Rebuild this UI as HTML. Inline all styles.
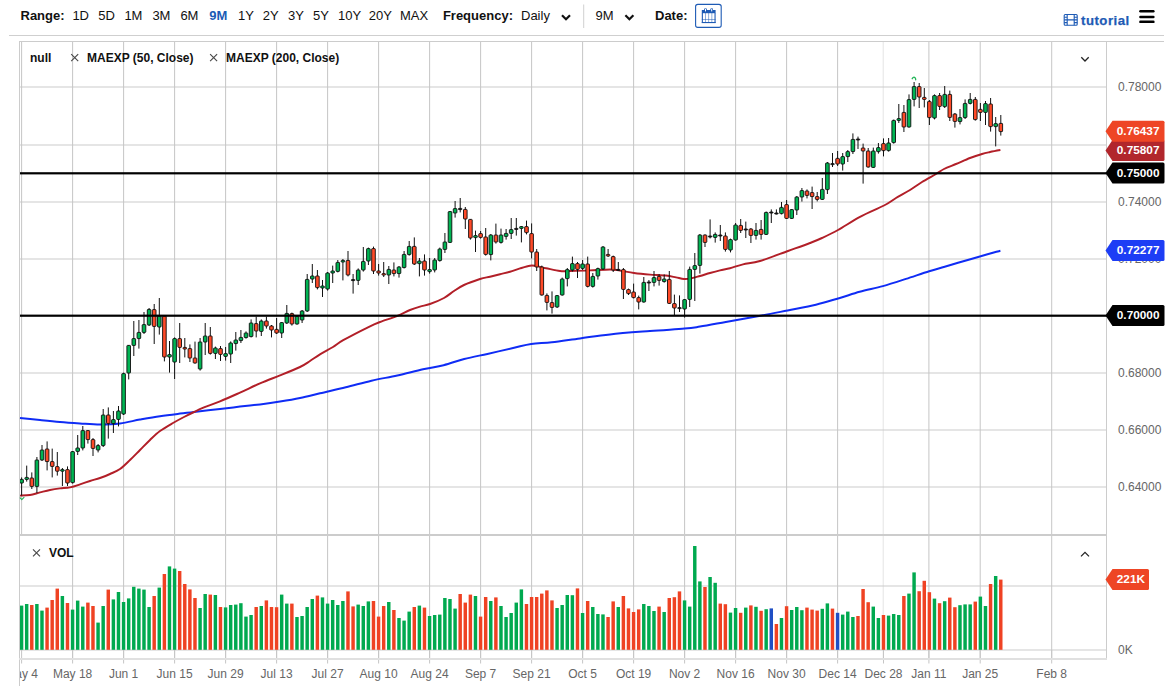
<!DOCTYPE html>
<html><head><meta charset="utf-8"><title>Chart</title>
<style>
html,body{margin:0;padding:0;background:#fff;}
body{width:1165px;height:690px;overflow:hidden;font-family:"Liberation Sans", sans-serif;}
svg{display:block;position:absolute;left:0;top:0;}
text{font-family:"Liberation Sans", sans-serif;}
.ax{font-size:12px;fill:#666;}
.tb{font-size:13px;fill:#111;}
.b{font-weight:bold;}
.lg{font-size:12px;font-weight:bold;fill:#111;}
.fl{font-size:11.8px;font-weight:bold;fill:#fff;}
</style></head><body>
<svg width="1165" height="690" viewBox="0 0 1165 690">
<rect width="1165" height="690" fill="#fff"/>

<rect x="9" y="35" width="1155" height="1" fill="#cfcfcf"/>
<g shape-rendering="crispEdges">
<rect x="20" y="86" width="1086" height="2" fill="#e5e5e5"/>
<rect x="20" y="144" width="1086" height="2" fill="#e5e5e5"/>
<rect x="20" y="201" width="1086" height="2" fill="#e5e5e5"/>
<rect x="20" y="258" width="1086" height="2" fill="#e5e5e5"/>
<rect x="20" y="372" width="1086" height="2" fill="#e5e5e5"/>
<rect x="20" y="429" width="1086" height="2" fill="#e5e5e5"/>
<rect x="20" y="486" width="1086" height="2" fill="#e5e5e5"/>
<rect x="20" y="585" width="1086" height="2" fill="#e5e5e5"/>
<rect x="20" y="649" width="1086" height="2" fill="#e5e5e5"/>
<rect x="21.1" y="42" width="1" height="492" fill="#c6c6c6" shape-rendering="auto"/>
<rect x="21.1" y="650" width="1" height="13.5" fill="#c6c6c6" shape-rendering="auto"/>
<rect x="72.1" y="42" width="1" height="618" fill="#c6c6c6" shape-rendering="auto"/>
<rect x="72.1" y="650" width="1" height="13.5" fill="#c6c6c6" shape-rendering="auto"/>
<rect x="123.1" y="42" width="1" height="618" fill="#c6c6c6" shape-rendering="auto"/>
<rect x="123.1" y="650" width="1" height="13.5" fill="#c6c6c6" shape-rendering="auto"/>
<rect x="174.1" y="42" width="1" height="618" fill="#c6c6c6" shape-rendering="auto"/>
<rect x="174.1" y="650" width="1" height="13.5" fill="#c6c6c6" shape-rendering="auto"/>
<rect x="225.1" y="42" width="1" height="618" fill="#c6c6c6" shape-rendering="auto"/>
<rect x="225.1" y="650" width="1" height="13.5" fill="#c6c6c6" shape-rendering="auto"/>
<rect x="276.1" y="42" width="1" height="618" fill="#c6c6c6" shape-rendering="auto"/>
<rect x="276.1" y="650" width="1" height="13.5" fill="#c6c6c6" shape-rendering="auto"/>
<rect x="327.1" y="42" width="1" height="618" fill="#c6c6c6" shape-rendering="auto"/>
<rect x="327.1" y="650" width="1" height="13.5" fill="#c6c6c6" shape-rendering="auto"/>
<rect x="378.1" y="42" width="1" height="618" fill="#c6c6c6" shape-rendering="auto"/>
<rect x="378.1" y="650" width="1" height="13.5" fill="#c6c6c6" shape-rendering="auto"/>
<rect x="429.1" y="42" width="1" height="618" fill="#c6c6c6" shape-rendering="auto"/>
<rect x="429.1" y="650" width="1" height="13.5" fill="#c6c6c6" shape-rendering="auto"/>
<rect x="480.1" y="42" width="1" height="618" fill="#c6c6c6" shape-rendering="auto"/>
<rect x="480.1" y="650" width="1" height="13.5" fill="#c6c6c6" shape-rendering="auto"/>
<rect x="531.1" y="42" width="1" height="618" fill="#c6c6c6" shape-rendering="auto"/>
<rect x="531.1" y="650" width="1" height="13.5" fill="#c6c6c6" shape-rendering="auto"/>
<rect x="582.1" y="42" width="1" height="618" fill="#c6c6c6" shape-rendering="auto"/>
<rect x="582.1" y="650" width="1" height="13.5" fill="#c6c6c6" shape-rendering="auto"/>
<rect x="633.1" y="42" width="1" height="618" fill="#c6c6c6" shape-rendering="auto"/>
<rect x="633.1" y="650" width="1" height="13.5" fill="#c6c6c6" shape-rendering="auto"/>
<rect x="684.1" y="42" width="1" height="618" fill="#c6c6c6" shape-rendering="auto"/>
<rect x="684.1" y="650" width="1" height="13.5" fill="#c6c6c6" shape-rendering="auto"/>
<rect x="735.1" y="42" width="1" height="618" fill="#c6c6c6" shape-rendering="auto"/>
<rect x="735.1" y="650" width="1" height="13.5" fill="#c6c6c6" shape-rendering="auto"/>
<rect x="786.1" y="42" width="1" height="618" fill="#c6c6c6" shape-rendering="auto"/>
<rect x="786.1" y="650" width="1" height="13.5" fill="#c6c6c6" shape-rendering="auto"/>
<rect x="837.1" y="42" width="1" height="618" fill="#c6c6c6" shape-rendering="auto"/>
<rect x="837.1" y="650" width="1" height="13.5" fill="#c6c6c6" shape-rendering="auto"/>
<path d="M883.2,42.5 V660" stroke="#c8c8c8" stroke-width="1" stroke-dasharray="1,1" fill="none" shape-rendering="auto"/>
<rect x="883.0" y="650" width="1" height="13.5" fill="#c6c6c6" shape-rendering="auto"/>
<rect x="928.4" y="42" width="1" height="618" fill="#c6c6c6" shape-rendering="auto"/>
<rect x="928.4" y="650" width="1" height="13.5" fill="#c6c6c6" shape-rendering="auto"/>
<rect x="979.7" y="42" width="1" height="618" fill="#c6c6c6" shape-rendering="auto"/>
<rect x="979.7" y="650" width="1" height="13.5" fill="#c6c6c6" shape-rendering="auto"/>
<rect x="1051.2" y="42" width="1" height="618" fill="#c6c6c6" shape-rendering="auto"/>
<rect x="1051.2" y="650" width="1" height="13.5" fill="#c6c6c6" shape-rendering="auto"/>
<rect x="19" y="41" width="1145" height="1" fill="#cccccc"/>
<rect x="19" y="41" width="1" height="645" fill="#cccccc"/>
<rect x="1106" y="41" width="1" height="619" fill="#cccccc"/>
<rect x="19" y="534" width="1088" height="2" fill="#cccccc"/>
<rect x="19" y="658" width="1088" height="2" fill="#e0e0e0"/>
</g>
<clipPath id="cv"><rect x="20" y="536" width="1086" height="124"/></clipPath><g clip-path="url(#cv)">
<rect x="19.85" y="605.6" width="3.45" height="44.2" fill="#00a94f"/>
<rect x="24.95" y="604.0" width="3.45" height="45.8" fill="#00a94f"/>
<rect x="30.05" y="605.0" width="3.45" height="44.8" fill="#ef4223"/>
<rect x="35.15" y="604.0" width="3.45" height="45.8" fill="#00a94f"/>
<rect x="40.25" y="610.6" width="3.45" height="39.2" fill="#00a94f"/>
<rect x="45.35" y="607.6" width="3.45" height="42.2" fill="#ef4223"/>
<rect x="50.45" y="600.0" width="3.45" height="49.8" fill="#ef4223"/>
<rect x="55.55" y="588.6" width="3.45" height="61.2" fill="#ef4223"/>
<rect x="60.65" y="596.0" width="3.45" height="53.8" fill="#00a94f"/>
<rect x="65.75" y="603.0" width="3.45" height="46.8" fill="#ef4223"/>
<rect x="70.85" y="609.6" width="3.45" height="40.2" fill="#00a94f"/>
<rect x="75.95" y="600.6" width="3.45" height="49.2" fill="#00a94f"/>
<rect x="81.05" y="606.6" width="3.45" height="43.2" fill="#00a94f"/>
<rect x="86.15" y="602.6" width="3.45" height="47.2" fill="#ef4223"/>
<rect x="91.25" y="606.0" width="3.45" height="43.8" fill="#ef4223"/>
<rect x="96.35" y="622.6" width="3.45" height="27.2" fill="#00a94f"/>
<rect x="101.45" y="606.0" width="3.45" height="43.8" fill="#00a94f"/>
<rect x="106.55" y="589.6" width="3.45" height="60.2" fill="#ef4223"/>
<rect x="111.65" y="599.4" width="3.45" height="50.4" fill="#00a94f"/>
<rect x="116.75" y="592.0" width="3.45" height="57.8" fill="#00a94f"/>
<rect x="121.85" y="602.0" width="3.45" height="47.8" fill="#00a94f"/>
<rect x="126.95" y="598.4" width="3.45" height="51.4" fill="#00a94f"/>
<rect x="132.05" y="586.8" width="3.45" height="63.0" fill="#00a94f"/>
<rect x="137.15" y="588.6" width="3.45" height="61.2" fill="#00a94f"/>
<rect x="142.25" y="589.6" width="3.45" height="60.2" fill="#00a94f"/>
<rect x="147.35" y="607.0" width="3.45" height="42.8" fill="#00a94f"/>
<rect x="152.45" y="596.0" width="3.45" height="53.8" fill="#ef4223"/>
<rect x="157.55" y="587.6" width="3.45" height="62.2" fill="#00a94f"/>
<rect x="162.65" y="574.0" width="3.45" height="75.8" fill="#ef4223"/>
<rect x="167.75" y="566.4" width="3.45" height="83.4" fill="#00a94f"/>
<rect x="172.85" y="568.6" width="3.45" height="81.2" fill="#00a94f"/>
<rect x="177.95" y="571.0" width="3.45" height="78.8" fill="#ef4223"/>
<rect x="183.05" y="584.0" width="3.45" height="65.8" fill="#ef4223"/>
<rect x="188.15" y="589.4" width="3.45" height="60.4" fill="#ef4223"/>
<rect x="193.25" y="598.0" width="3.45" height="51.8" fill="#ef4223"/>
<rect x="198.35" y="608.0" width="3.45" height="41.8" fill="#00a94f"/>
<rect x="203.45" y="594.0" width="3.45" height="55.8" fill="#00a94f"/>
<rect x="208.55" y="594.6" width="3.45" height="55.2" fill="#ef4223"/>
<rect x="213.65" y="595.0" width="3.45" height="54.8" fill="#00a94f"/>
<rect x="218.75" y="607.0" width="3.45" height="42.8" fill="#ef4223"/>
<rect x="223.85" y="607.4" width="3.45" height="42.4" fill="#00a94f"/>
<rect x="228.95" y="605.0" width="3.45" height="44.8" fill="#00a94f"/>
<rect x="234.05" y="604.6" width="3.45" height="45.2" fill="#00a94f"/>
<rect x="239.15" y="603.2" width="3.45" height="46.6" fill="#00a94f"/>
<rect x="244.25" y="616.6" width="3.45" height="33.2" fill="#00a94f"/>
<rect x="249.35" y="615.0" width="3.45" height="34.8" fill="#00a94f"/>
<rect x="254.45" y="607.0" width="3.45" height="42.8" fill="#ef4223"/>
<rect x="259.55" y="606.0" width="3.45" height="43.8" fill="#00a94f"/>
<rect x="264.65" y="600.4" width="3.45" height="49.4" fill="#ef4223"/>
<rect x="269.75" y="607.0" width="3.45" height="42.8" fill="#ef4223"/>
<rect x="274.85" y="607.2" width="3.45" height="42.6" fill="#ef4223"/>
<rect x="279.95" y="594.6" width="3.45" height="55.2" fill="#00a94f"/>
<rect x="285.05" y="603.6" width="3.45" height="46.2" fill="#00a94f"/>
<rect x="290.15" y="603.6" width="3.45" height="46.2" fill="#ef4223"/>
<rect x="295.25" y="617.0" width="3.45" height="32.8" fill="#00a94f"/>
<rect x="300.35" y="616.0" width="3.45" height="33.8" fill="#00a94f"/>
<rect x="305.45" y="607.0" width="3.45" height="42.8" fill="#00a94f"/>
<rect x="310.55" y="599.0" width="3.45" height="50.8" fill="#00a94f"/>
<rect x="315.65" y="595.6" width="3.45" height="54.2" fill="#ef4223"/>
<rect x="320.75" y="597.4" width="3.45" height="52.4" fill="#00a94f"/>
<rect x="325.85" y="603.6" width="3.45" height="46.2" fill="#00a94f"/>
<rect x="330.95" y="600.0" width="3.45" height="49.8" fill="#00a94f"/>
<rect x="336.05" y="605.0" width="3.45" height="44.8" fill="#00a94f"/>
<rect x="341.15" y="601.0" width="3.45" height="48.8" fill="#00a94f"/>
<rect x="346.25" y="591.4" width="3.45" height="58.4" fill="#ef4223"/>
<rect x="351.35" y="606.4" width="3.45" height="43.4" fill="#ef4223"/>
<rect x="356.45" y="604.6" width="3.45" height="45.2" fill="#00a94f"/>
<rect x="361.55" y="606.0" width="3.45" height="43.8" fill="#00a94f"/>
<rect x="366.65" y="601.4" width="3.45" height="48.4" fill="#00a94f"/>
<rect x="371.75" y="601.0" width="3.45" height="48.8" fill="#ef4223"/>
<rect x="376.85" y="616.6" width="3.45" height="33.2" fill="#ef4223"/>
<rect x="381.95" y="606.0" width="3.45" height="43.8" fill="#ef4223"/>
<rect x="387.05" y="602.0" width="3.45" height="47.8" fill="#00a94f"/>
<rect x="392.15" y="610.0" width="3.45" height="39.8" fill="#ef4223"/>
<rect x="397.25" y="618.0" width="3.45" height="31.8" fill="#00a94f"/>
<rect x="402.35" y="620.6" width="3.45" height="29.2" fill="#00a94f"/>
<rect x="407.45" y="611.6" width="3.45" height="38.2" fill="#00a94f"/>
<rect x="412.55" y="607.0" width="3.45" height="42.8" fill="#ef4223"/>
<rect x="417.65" y="605.6" width="3.45" height="44.2" fill="#00a94f"/>
<rect x="422.75" y="607.6" width="3.45" height="42.2" fill="#ef4223"/>
<rect x="427.85" y="616.0" width="3.45" height="33.8" fill="#00a94f"/>
<rect x="432.95" y="615.0" width="3.45" height="34.8" fill="#00a94f"/>
<rect x="438.05" y="614.6" width="3.45" height="35.2" fill="#00a94f"/>
<rect x="443.15" y="598.0" width="3.45" height="51.8" fill="#00a94f"/>
<rect x="448.25" y="599.0" width="3.45" height="50.8" fill="#00a94f"/>
<rect x="453.35" y="608.6" width="3.45" height="41.2" fill="#00a94f"/>
<rect x="458.45" y="594.0" width="3.45" height="55.8" fill="#ef4223"/>
<rect x="463.55" y="602.6" width="3.45" height="47.2" fill="#ef4223"/>
<rect x="468.65" y="594.6" width="3.45" height="55.2" fill="#ef4223"/>
<rect x="473.75" y="596.0" width="3.45" height="53.8" fill="#00a94f"/>
<rect x="478.85" y="616.6" width="3.45" height="33.2" fill="#ef4223"/>
<rect x="483.95" y="597.0" width="3.45" height="52.8" fill="#ef4223"/>
<rect x="489.05" y="601.0" width="3.45" height="48.8" fill="#00a94f"/>
<rect x="494.15" y="597.4" width="3.45" height="52.4" fill="#ef4223"/>
<rect x="499.25" y="606.0" width="3.45" height="43.8" fill="#00a94f"/>
<rect x="504.35" y="617.0" width="3.45" height="32.8" fill="#00a94f"/>
<rect x="509.45" y="613.0" width="3.45" height="36.8" fill="#00a94f"/>
<rect x="514.55" y="602.6" width="3.45" height="47.2" fill="#00a94f"/>
<rect x="519.65" y="589.4" width="3.45" height="60.4" fill="#00a94f"/>
<rect x="524.75" y="604.0" width="3.45" height="45.8" fill="#ef4223"/>
<rect x="529.85" y="597.0" width="3.45" height="52.8" fill="#ef4223"/>
<rect x="534.95" y="597.0" width="3.45" height="52.8" fill="#ef4223"/>
<rect x="540.05" y="593.6" width="3.45" height="56.2" fill="#ef4223"/>
<rect x="545.15" y="590.4" width="3.45" height="59.4" fill="#ef4223"/>
<rect x="550.25" y="600.4" width="3.45" height="49.4" fill="#ef4223"/>
<rect x="555.35" y="608.0" width="3.45" height="41.8" fill="#00a94f"/>
<rect x="560.45" y="605.0" width="3.45" height="44.8" fill="#00a94f"/>
<rect x="565.55" y="595.0" width="3.45" height="54.8" fill="#00a94f"/>
<rect x="570.65" y="595.2" width="3.45" height="54.6" fill="#00a94f"/>
<rect x="575.75" y="588.4" width="3.45" height="61.4" fill="#ef4223"/>
<rect x="580.85" y="613.0" width="3.45" height="36.8" fill="#00a94f"/>
<rect x="585.95" y="601.0" width="3.45" height="48.8" fill="#ef4223"/>
<rect x="591.05" y="607.0" width="3.45" height="42.8" fill="#00a94f"/>
<rect x="596.15" y="614.0" width="3.45" height="35.8" fill="#00a94f"/>
<rect x="601.25" y="614.4" width="3.45" height="35.4" fill="#00a94f"/>
<rect x="606.35" y="617.0" width="3.45" height="32.8" fill="#ef4223"/>
<rect x="611.45" y="601.4" width="3.45" height="48.4" fill="#ef4223"/>
<rect x="616.55" y="607.0" width="3.45" height="42.8" fill="#00a94f"/>
<rect x="621.65" y="596.0" width="3.45" height="53.8" fill="#ef4223"/>
<rect x="626.75" y="608.4" width="3.45" height="41.4" fill="#ef4223"/>
<rect x="631.85" y="612.0" width="3.45" height="37.8" fill="#ef4223"/>
<rect x="636.95" y="609.4" width="3.45" height="40.4" fill="#ef4223"/>
<rect x="642.05" y="604.0" width="3.45" height="45.8" fill="#00a94f"/>
<rect x="647.15" y="606.0" width="3.45" height="43.8" fill="#00a94f"/>
<rect x="652.25" y="611.0" width="3.45" height="38.8" fill="#00a94f"/>
<rect x="657.35" y="606.6" width="3.45" height="43.2" fill="#ef4223"/>
<rect x="662.45" y="612.0" width="3.45" height="37.8" fill="#00a94f"/>
<rect x="667.55" y="598.0" width="3.45" height="51.8" fill="#ef4223"/>
<rect x="672.65" y="597.2" width="3.45" height="52.6" fill="#ef4223"/>
<rect x="677.75" y="591.4" width="3.45" height="58.4" fill="#ef4223"/>
<rect x="682.85" y="600.4" width="3.45" height="49.4" fill="#00a94f"/>
<rect x="687.95" y="606.6" width="3.45" height="43.2" fill="#00a94f"/>
<rect x="693.05" y="546.0" width="3.45" height="103.8" fill="#00a94f"/>
<rect x="698.15" y="581.4" width="3.45" height="68.4" fill="#00a94f"/>
<rect x="703.25" y="587.0" width="3.45" height="62.8" fill="#ef4223"/>
<rect x="708.35" y="577.0" width="3.45" height="72.8" fill="#00a94f"/>
<rect x="713.45" y="582.8" width="3.45" height="67.0" fill="#00a94f"/>
<rect x="718.55" y="603.6" width="3.45" height="46.2" fill="#ef4223"/>
<rect x="723.65" y="604.2" width="3.45" height="45.6" fill="#ef4223"/>
<rect x="728.75" y="612.6" width="3.45" height="37.2" fill="#00a94f"/>
<rect x="733.85" y="608.0" width="3.45" height="41.8" fill="#00a94f"/>
<rect x="738.95" y="612.8" width="3.45" height="37.0" fill="#ef4223"/>
<rect x="744.05" y="607.6" width="3.45" height="42.2" fill="#00a94f"/>
<rect x="749.15" y="605.4" width="3.45" height="44.4" fill="#ef4223"/>
<rect x="754.25" y="606.8" width="3.45" height="43.0" fill="#00a94f"/>
<rect x="759.35" y="610.8" width="3.45" height="39.0" fill="#ef4223"/>
<rect x="764.45" y="609.2" width="3.45" height="40.6" fill="#00a94f"/>
<rect x="769.55" y="608.4" width="3.45" height="41.4" fill="#1f4fc4"/>
<rect x="774.65" y="624.0" width="3.45" height="25.8" fill="#ef4223"/>
<rect x="779.75" y="618.0" width="3.45" height="31.8" fill="#00a94f"/>
<rect x="784.85" y="606.2" width="3.45" height="43.6" fill="#ef4223"/>
<rect x="789.95" y="610.0" width="3.45" height="39.8" fill="#00a94f"/>
<rect x="795.05" y="607.0" width="3.45" height="42.8" fill="#00a94f"/>
<rect x="800.15" y="610.2" width="3.45" height="39.6" fill="#00a94f"/>
<rect x="805.25" y="607.6" width="3.45" height="42.2" fill="#ef4223"/>
<rect x="810.35" y="609.6" width="3.45" height="40.2" fill="#ef4223"/>
<rect x="815.45" y="610.6" width="3.45" height="39.2" fill="#ef4223"/>
<rect x="820.55" y="608.8" width="3.45" height="41.0" fill="#00a94f"/>
<rect x="825.65" y="603.4" width="3.45" height="46.4" fill="#00a94f"/>
<rect x="830.75" y="608.6" width="3.45" height="41.2" fill="#ef4223"/>
<rect x="835.85" y="612.8" width="3.45" height="37.0" fill="#1f4fc4"/>
<rect x="840.95" y="614.6" width="3.45" height="35.2" fill="#00a94f"/>
<rect x="846.05" y="611.6" width="3.45" height="38.2" fill="#00a94f"/>
<rect x="851.15" y="617.0" width="3.45" height="32.8" fill="#00a94f"/>
<rect x="856.25" y="616.0" width="3.45" height="33.8" fill="#ef4223"/>
<rect x="861.35" y="589.0" width="3.45" height="60.8" fill="#ef4223"/>
<rect x="866.45" y="602.2" width="3.45" height="47.6" fill="#ef4223"/>
<rect x="871.55" y="606.6" width="3.45" height="43.2" fill="#00a94f"/>
<rect x="876.65" y="618.0" width="3.45" height="31.8" fill="#00a94f"/>
<rect x="881.75" y="615.0" width="3.45" height="34.8" fill="#ef4223"/>
<rect x="886.85" y="615.6" width="3.45" height="34.2" fill="#00a94f"/>
<rect x="891.95" y="614.0" width="3.45" height="35.8" fill="#00a94f"/>
<rect x="897.05" y="615.0" width="3.45" height="34.8" fill="#00a94f"/>
<rect x="902.15" y="596.0" width="3.45" height="53.8" fill="#ef4223"/>
<rect x="907.25" y="593.6" width="3.45" height="56.2" fill="#00a94f"/>
<rect x="912.35" y="572.4" width="3.45" height="77.4" fill="#00a94f"/>
<rect x="917.45" y="591.2" width="3.45" height="58.6" fill="#ef4223"/>
<rect x="922.55" y="580.8" width="3.45" height="69.0" fill="#ef4223"/>
<rect x="927.65" y="592.2" width="3.45" height="57.6" fill="#ef4223"/>
<rect x="932.75" y="598.6" width="3.45" height="51.2" fill="#00a94f"/>
<rect x="937.85" y="603.2" width="3.45" height="46.6" fill="#ef4223"/>
<rect x="942.95" y="601.2" width="3.45" height="48.6" fill="#00a94f"/>
<rect x="948.05" y="597.6" width="3.45" height="52.2" fill="#ef4223"/>
<rect x="953.15" y="607.2" width="3.45" height="42.6" fill="#ef4223"/>
<rect x="958.25" y="605.2" width="3.45" height="44.6" fill="#00a94f"/>
<rect x="963.35" y="604.4" width="3.45" height="45.4" fill="#00a94f"/>
<rect x="968.45" y="604.4" width="3.45" height="45.4" fill="#00a94f"/>
<rect x="973.55" y="601.6" width="3.45" height="48.2" fill="#ef4223"/>
<rect x="978.65" y="596.6" width="3.45" height="53.2" fill="#00a94f"/>
<rect x="983.75" y="606.0" width="3.45" height="43.8" fill="#00a94f"/>
<rect x="988.85" y="584.0" width="3.45" height="65.8" fill="#ef4223"/>
<rect x="993.95" y="576.0" width="3.45" height="73.8" fill="#00a94f"/>
<rect x="999.05" y="579.6" width="3.45" height="70.2" fill="#ef4223"/>
</g>
<path d="M20.0,418.0 C23.3,418.3 33.3,419.3 40.0,420.0 C46.7,420.7 53.3,421.4 60.0,422.0 C66.7,422.6 73.3,423.0 80.0,423.4 C86.7,423.8 93.3,424.4 100.0,424.4 C106.7,424.4 113.3,424.2 120.0,423.4 C126.7,422.6 133.3,420.8 140.0,419.6 C146.7,418.4 153.3,417.2 160.0,416.2 C166.7,415.2 174.3,414.3 180.0,413.6 C185.7,412.9 187.3,412.8 194.0,412.0 C200.7,411.2 212.3,409.9 220.0,409.0 C227.7,408.1 233.3,407.4 240.0,406.6 C246.7,405.8 253.3,405.2 260.0,404.4 C266.7,403.6 273.3,402.7 280.0,401.6 C286.7,400.5 293.3,399.4 300.0,398.0 C306.7,396.6 312.4,395.1 320.0,393.3 C327.6,391.5 337.2,389.4 345.8,387.3 C354.4,385.2 362.9,382.7 371.5,380.7 C380.1,378.7 388.7,377.4 397.3,375.5 C405.9,373.6 415.3,371.0 423.0,369.3 C430.7,367.6 436.7,366.9 443.6,365.2 C450.5,363.5 456.9,360.9 464.2,359.0 C471.5,357.1 479.2,355.7 487.4,353.9 C495.5,352.1 505.8,349.6 513.1,348.0 C520.4,346.4 524.8,344.9 531.2,344.0 C537.7,343.1 543.7,343.2 551.8,342.3 C559.9,341.4 570.3,339.7 580.0,338.4 C589.7,337.1 598.3,335.6 610.0,334.4 C621.7,333.2 637.6,332.0 650.0,331.0 C662.4,330.0 676.3,329.3 684.6,328.6 C692.9,327.9 693.1,327.7 700.0,326.6 C706.9,325.5 715.5,323.8 725.8,321.9 C736.1,320.0 751.5,317.4 761.8,315.5 C772.1,313.6 778.6,312.2 787.6,310.4 C796.6,308.6 807.3,306.7 815.9,304.7 C824.5,302.7 831.7,300.3 839.0,298.2 C846.3,296.1 852.4,293.8 859.7,291.8 C867.0,289.8 875.2,288.2 882.9,286.1 C890.6,284.0 898.3,281.4 906.0,278.9 C913.7,276.4 922.8,273.2 929.2,271.2 C935.7,269.2 937.8,268.7 944.7,266.7 C951.6,264.7 963.1,261.3 970.4,259.2 C977.7,257.1 983.4,255.4 988.4,254.0 C993.4,252.6 998.4,251.2 1000.4,250.7" fill="none" stroke="#0f2cf5" stroke-width="2" stroke-linejoin="round"/>
<path d="M20.0,495.6 C21.7,495.5 26.7,495.5 30.0,495.0 C33.3,494.5 36.7,493.2 40.0,492.4 C43.3,491.6 46.7,490.7 50.0,490.0 C53.3,489.3 56.7,488.8 60.0,488.4 C63.3,488.0 66.7,488.1 70.0,487.4 C73.3,486.7 76.7,485.5 80.0,484.4 C83.3,483.3 86.7,482.1 90.0,481.0 C93.3,479.9 96.7,479.2 100.0,478.0 C103.3,476.8 106.7,475.5 110.0,474.0 C113.3,472.5 116.7,471.3 120.0,469.0 C123.3,466.7 126.7,463.2 130.0,460.0 C133.3,456.8 136.7,453.3 140.0,450.0 C143.3,446.7 146.7,443.2 150.0,440.0 C153.3,436.8 156.2,433.8 160.0,431.0 C163.8,428.2 169.0,425.3 173.0,423.0 C177.0,420.7 180.5,418.8 184.0,417.0 C187.5,415.2 190.7,413.6 194.0,412.0 C197.3,410.4 199.7,409.2 204.0,407.4 C208.3,405.6 214.0,403.9 220.0,401.4 C226.0,398.9 233.3,395.6 240.0,392.6 C246.7,389.6 253.3,386.3 260.0,383.4 C266.7,380.5 273.3,378.1 280.0,375.4 C286.7,372.7 295.0,369.4 300.0,367.0 C305.0,364.6 306.7,363.1 310.0,361.0 C313.3,358.9 316.2,356.7 320.0,354.4 C323.8,352.1 329.1,349.4 333.0,347.0 C336.9,344.6 337.2,343.6 343.2,340.2 C349.2,336.8 362.9,329.8 369.0,326.8 C375.1,323.8 375.3,323.8 380.0,322.0 C384.7,320.2 392.3,317.8 397.3,315.8 C402.3,313.8 406.2,311.5 410.0,310.0 C413.8,308.5 416.7,307.6 420.0,306.6 C423.3,305.6 426.0,305.4 430.0,304.0 C434.0,302.6 440.0,300.2 444.0,298.0 C448.0,295.8 450.7,293.2 454.0,291.0 C457.3,288.8 459.7,287.0 464.0,285.0 C468.3,283.0 475.7,280.4 480.0,279.0 C484.3,277.6 486.7,277.5 490.0,276.7 C493.3,275.9 496.7,275.0 500.0,274.2 C503.3,273.4 506.7,272.8 510.0,271.8 C513.3,270.8 516.7,269.4 520.0,268.4 C523.3,267.4 527.3,266.1 530.0,265.7 C532.7,265.3 533.3,265.6 536.0,266.0 C538.7,266.4 542.0,267.4 546.0,268.2 C550.0,269.0 556.0,270.5 560.0,271.0 C564.0,271.5 565.0,271.1 570.0,271.0 C575.0,270.9 583.3,270.7 590.0,270.4 C596.7,270.1 605.0,269.4 610.0,269.4 C615.0,269.4 616.0,270.0 620.0,270.6 C624.0,271.2 629.0,272.3 634.0,273.0 C639.0,273.7 644.7,274.2 650.0,274.6 C655.3,275.0 661.7,275.0 666.0,275.5 C670.3,276.0 673.0,276.8 676.0,277.4 C679.0,278.0 681.7,278.8 684.0,279.0 C686.3,279.2 687.3,279.1 690.0,278.6 C692.7,278.1 696.7,276.9 700.0,276.0 C703.3,275.1 706.7,273.9 710.0,273.0 C713.3,272.1 716.7,271.2 720.0,270.4 C723.3,269.6 726.2,269.2 730.0,268.2 C733.8,267.2 738.0,265.6 743.0,264.4 C748.0,263.2 752.5,263.2 760.0,261.0 C767.5,258.8 779.7,254.0 788.0,251.0 C796.3,248.0 804.3,245.2 810.0,243.0 C815.7,240.8 817.3,240.2 822.0,238.0 C826.7,235.8 831.7,233.5 838.0,230.0 C844.3,226.5 852.3,220.9 860.0,216.8 C867.7,212.7 878.0,208.6 884.0,205.5 C890.0,202.4 891.7,200.6 896.0,198.0 C900.3,195.4 905.7,192.7 910.0,190.0 C914.3,187.3 917.7,184.7 922.0,182.0 C926.3,179.3 932.3,176.2 936.0,174.0 C939.7,171.8 940.7,170.7 944.0,169.0 C947.3,167.3 951.7,165.8 956.0,164.0 C960.3,162.2 965.7,159.7 970.0,158.0 C974.3,156.3 978.7,155.0 982.0,154.0 C985.3,153.0 986.9,152.7 990.0,152.0 C993.1,151.3 998.7,150.3 1000.4,150.0" fill="none" stroke="#b21f28" stroke-width="1.95" stroke-linejoin="round"/>
<clipPath id="cc"><rect x="20" y="42" width="1086" height="492"/></clipPath><g clip-path="url(#cc)">
<rect x="21.10" y="477.4" width="1" height="18.2" fill="#111"/>
<rect x="19.80" y="479.4" width="3.6" height="3.6" fill="#00b453" stroke="#0c0c0c" stroke-width="0.9" rx="0.6"/>
<rect x="26.20" y="465.6" width="1" height="16.0" fill="#111"/>
<rect x="24.90" y="477.4" width="3.6" height="2.0" fill="#00b453" stroke="#0c0c0c" stroke-width="0.9" rx="0.6"/>
<rect x="31.30" y="472.4" width="1" height="16.6" fill="#111"/>
<rect x="30.00" y="478.0" width="3.6" height="8.4" fill="#ff4a28" stroke="#0c0c0c" stroke-width="0.9" rx="0.6"/>
<rect x="36.40" y="457.0" width="1" height="36.0" fill="#111"/>
<rect x="35.10" y="460.0" width="3.6" height="26.4" fill="#00b453" stroke="#0c0c0c" stroke-width="0.9" rx="0.6"/>
<rect x="41.50" y="445.0" width="1" height="16.0" fill="#111"/>
<rect x="40.20" y="450.0" width="3.6" height="10.0" fill="#00b453" stroke="#0c0c0c" stroke-width="0.9" rx="0.6"/>
<rect x="46.60" y="441.4" width="1" height="29.0" fill="#111"/>
<rect x="45.30" y="449.0" width="3.6" height="12.6" fill="#ff4a28" stroke="#0c0c0c" stroke-width="0.9" rx="0.6"/>
<rect x="51.70" y="448.6" width="1" height="28.8" fill="#111"/>
<rect x="50.40" y="461.6" width="3.6" height="4.8" fill="#ff4a28" stroke="#0c0c0c" stroke-width="0.9" rx="0.6"/>
<rect x="56.80" y="452.0" width="1" height="23.6" fill="#111"/>
<rect x="55.50" y="466.6" width="3.6" height="4.6" fill="#ff4a28" stroke="#0c0c0c" stroke-width="0.9" rx="0.6"/>
<rect x="61.90" y="468.0" width="1" height="18.0" fill="#111"/>
<rect x="60.60" y="469.6" width="3.6" height="1.6" fill="#00b453" stroke="#0c0c0c" stroke-width="0.9" rx="0.6"/>
<rect x="67.00" y="466.4" width="1" height="19.6" fill="#111"/>
<rect x="65.70" y="469.6" width="3.6" height="13.4" fill="#ff4a28" stroke="#0c0c0c" stroke-width="0.9" rx="0.6"/>
<rect x="72.10" y="451.0" width="1" height="32.6" fill="#111"/>
<rect x="70.80" y="451.6" width="3.6" height="31.0" fill="#00b453" stroke="#0c0c0c" stroke-width="0.9" rx="0.6"/>
<rect x="77.20" y="435.0" width="1" height="20.0" fill="#111"/>
<rect x="75.90" y="448.0" width="3.6" height="3.4" fill="#00b453" stroke="#0c0c0c" stroke-width="0.9" rx="0.6"/>
<rect x="82.30" y="426.0" width="1" height="24.4" fill="#111"/>
<rect x="81.00" y="430.6" width="3.6" height="17.4" fill="#00b453" stroke="#0c0c0c" stroke-width="0.9" rx="0.6"/>
<rect x="87.40" y="430.6" width="1" height="13.0" fill="#111"/>
<rect x="86.10" y="430.6" width="3.6" height="9.0" fill="#ff4a28" stroke="#0c0c0c" stroke-width="0.9" rx="0.6"/>
<rect x="92.50" y="438.0" width="1" height="18.0" fill="#111"/>
<rect x="91.20" y="439.6" width="3.6" height="8.8" fill="#ff4a28" stroke="#0c0c0c" stroke-width="0.9" rx="0.6"/>
<rect x="97.60" y="444.0" width="1" height="8.4" fill="#111"/>
<rect x="96.30" y="445.6" width="3.6" height="4.4" fill="#00b453" stroke="#0c0c0c" stroke-width="0.9" rx="0.6"/>
<rect x="102.70" y="409.0" width="1" height="38.0" fill="#111"/>
<rect x="101.40" y="415.0" width="3.6" height="30.6" fill="#00b453" stroke="#0c0c0c" stroke-width="0.9" rx="0.6"/>
<rect x="107.80" y="407.4" width="1" height="31.2" fill="#111"/>
<rect x="106.50" y="415.0" width="3.6" height="8.4" fill="#ff4a28" stroke="#0c0c0c" stroke-width="0.9" rx="0.6"/>
<rect x="112.90" y="411.0" width="1" height="22.0" fill="#111"/>
<rect x="111.60" y="419.6" width="3.6" height="4.0" fill="#00b453" stroke="#0c0c0c" stroke-width="0.9" rx="0.6"/>
<rect x="118.00" y="406.0" width="1" height="20.4" fill="#111"/>
<rect x="116.70" y="411.0" width="3.6" height="8.4" fill="#00b453" stroke="#0c0c0c" stroke-width="0.9" rx="0.6"/>
<rect x="123.10" y="372.6" width="1" height="42.4" fill="#111"/>
<rect x="121.80" y="373.6" width="3.6" height="40.4" fill="#00b453" stroke="#0c0c0c" stroke-width="0.9" rx="0.6"/>
<rect x="128.20" y="345.0" width="1" height="34.4" fill="#111"/>
<rect x="126.90" y="345.4" width="3.6" height="27.6" fill="#00b453" stroke="#0c0c0c" stroke-width="0.9" rx="0.6"/>
<rect x="133.30" y="321.0" width="1" height="35.0" fill="#111"/>
<rect x="132.00" y="338.6" width="3.6" height="6.8" fill="#00b453" stroke="#0c0c0c" stroke-width="0.9" rx="0.6"/>
<rect x="138.40" y="320.0" width="1" height="28.6" fill="#111"/>
<rect x="137.10" y="332.4" width="3.6" height="6.2" fill="#00b453" stroke="#0c0c0c" stroke-width="0.9" rx="0.6"/>
<rect x="143.50" y="312.0" width="1" height="22.0" fill="#111"/>
<rect x="142.20" y="324.6" width="3.6" height="7.8" fill="#00b453" stroke="#0c0c0c" stroke-width="0.9" rx="0.6"/>
<rect x="148.60" y="308.0" width="1" height="18.0" fill="#111"/>
<rect x="147.30" y="309.4" width="3.6" height="15.6" fill="#00b453" stroke="#0c0c0c" stroke-width="0.9" rx="0.6"/>
<rect x="153.70" y="304.0" width="1" height="40.0" fill="#111"/>
<rect x="152.40" y="309.6" width="3.6" height="16.8" fill="#ff4a28" stroke="#0c0c0c" stroke-width="0.9" rx="0.6"/>
<rect x="158.80" y="298.0" width="1" height="36.6" fill="#111"/>
<rect x="157.50" y="316.0" width="3.6" height="11.0" fill="#00b453" stroke="#0c0c0c" stroke-width="0.9" rx="0.6"/>
<rect x="163.90" y="316.0" width="1" height="45.4" fill="#111"/>
<rect x="162.60" y="316.0" width="3.6" height="41.0" fill="#ff4a28" stroke="#0c0c0c" stroke-width="0.9" rx="0.6"/>
<rect x="169.00" y="341.0" width="1" height="31.6" fill="#111"/>
<rect x="167.70" y="354.6" width="3.6" height="2.4" fill="#00b453" stroke="#0c0c0c" stroke-width="0.9" rx="0.6"/>
<rect x="174.10" y="337.4" width="1" height="41.6" fill="#111"/>
<rect x="172.80" y="338.6" width="3.6" height="23.4" fill="#00b453" stroke="#0c0c0c" stroke-width="0.9" rx="0.6"/>
<rect x="179.20" y="323.0" width="1" height="40.0" fill="#111"/>
<rect x="177.90" y="338.6" width="3.6" height="8.8" fill="#ff4a28" stroke="#0c0c0c" stroke-width="0.9" rx="0.6"/>
<rect x="184.30" y="338.0" width="1" height="19.4" fill="#111"/>
<rect x="183.00" y="347.4" width="3.6" height="1.6" fill="#ff4a28" stroke="#0c0c0c" stroke-width="0.9" rx="0.6"/>
<rect x="189.40" y="344.4" width="1" height="17.6" fill="#111"/>
<rect x="188.10" y="348.6" width="3.6" height="9.4" fill="#ff4a28" stroke="#0c0c0c" stroke-width="0.9" rx="0.6"/>
<rect x="194.50" y="341.6" width="1" height="22.0" fill="#111"/>
<rect x="193.20" y="358.0" width="3.6" height="5.0" fill="#ff4a28" stroke="#0c0c0c" stroke-width="0.9" rx="0.6"/>
<rect x="199.60" y="338.0" width="1" height="32.6" fill="#111"/>
<rect x="198.30" y="342.0" width="3.6" height="27.0" fill="#00b453" stroke="#0c0c0c" stroke-width="0.9" rx="0.6"/>
<rect x="204.70" y="323.0" width="1" height="32.0" fill="#111"/>
<rect x="203.40" y="336.0" width="3.6" height="6.0" fill="#00b453" stroke="#0c0c0c" stroke-width="0.9" rx="0.6"/>
<rect x="209.80" y="327.0" width="1" height="27.6" fill="#111"/>
<rect x="208.50" y="336.0" width="3.6" height="17.4" fill="#ff4a28" stroke="#0c0c0c" stroke-width="0.9" rx="0.6"/>
<rect x="214.90" y="346.6" width="1" height="12.4" fill="#111"/>
<rect x="213.60" y="348.0" width="3.6" height="5.4" fill="#00b453" stroke="#0c0c0c" stroke-width="0.9" rx="0.6"/>
<rect x="220.00" y="346.0" width="1" height="15.0" fill="#111"/>
<rect x="218.70" y="348.6" width="3.6" height="5.8" fill="#ff4a28" stroke="#0c0c0c" stroke-width="0.9" rx="0.6"/>
<rect x="225.10" y="347.0" width="1" height="13.6" fill="#111"/>
<rect x="223.80" y="353.6" width="3.6" height="2.8" fill="#00b453" stroke="#0c0c0c" stroke-width="0.9" rx="0.6"/>
<rect x="230.20" y="341.4" width="1" height="21.6" fill="#111"/>
<rect x="228.90" y="343.0" width="3.6" height="11.0" fill="#00b453" stroke="#0c0c0c" stroke-width="0.9" rx="0.6"/>
<rect x="235.30" y="332.0" width="1" height="18.6" fill="#111"/>
<rect x="234.00" y="340.0" width="3.6" height="3.6" fill="#00b453" stroke="#0c0c0c" stroke-width="0.9" rx="0.6"/>
<rect x="240.40" y="330.0" width="1" height="13.0" fill="#111"/>
<rect x="239.10" y="337.4" width="3.6" height="3.2" fill="#00b453" stroke="#0c0c0c" stroke-width="0.9" rx="0.6"/>
<rect x="245.50" y="331.4" width="1" height="7.2" fill="#111"/>
<rect x="244.20" y="333.0" width="3.6" height="4.6" fill="#00b453" stroke="#0c0c0c" stroke-width="0.9" rx="0.6"/>
<rect x="250.60" y="319.4" width="1" height="18.0" fill="#111"/>
<rect x="249.30" y="323.0" width="3.6" height="13.6" fill="#00b453" stroke="#0c0c0c" stroke-width="0.9" rx="0.6"/>
<rect x="255.70" y="316.6" width="1" height="20.8" fill="#111"/>
<rect x="254.40" y="323.6" width="3.6" height="7.4" fill="#ff4a28" stroke="#0c0c0c" stroke-width="0.9" rx="0.6"/>
<rect x="260.80" y="319.4" width="1" height="16.6" fill="#111"/>
<rect x="259.50" y="321.0" width="3.6" height="10.4" fill="#00b453" stroke="#0c0c0c" stroke-width="0.9" rx="0.6"/>
<rect x="265.90" y="316.6" width="1" height="12.0" fill="#111"/>
<rect x="264.60" y="321.0" width="3.6" height="5.0" fill="#ff4a28" stroke="#0c0c0c" stroke-width="0.9" rx="0.6"/>
<rect x="271.00" y="325.0" width="1" height="12.4" fill="#111"/>
<rect x="269.70" y="326.0" width="3.6" height="4.0" fill="#ff4a28" stroke="#0c0c0c" stroke-width="0.9" rx="0.6"/>
<rect x="276.10" y="318.0" width="1" height="16.0" fill="#111"/>
<rect x="274.80" y="329.4" width="3.6" height="3.6" fill="#ff4a28" stroke="#0c0c0c" stroke-width="0.9" rx="0.6"/>
<rect x="281.20" y="322.0" width="1" height="16.0" fill="#111"/>
<rect x="279.90" y="322.6" width="3.6" height="10.4" fill="#00b453" stroke="#0c0c0c" stroke-width="0.9" rx="0.6"/>
<rect x="286.30" y="305.0" width="1" height="19.0" fill="#111"/>
<rect x="285.00" y="313.4" width="3.6" height="9.6" fill="#00b453" stroke="#0c0c0c" stroke-width="0.9" rx="0.6"/>
<rect x="291.40" y="312.6" width="1" height="13.0" fill="#111"/>
<rect x="290.10" y="313.6" width="3.6" height="10.4" fill="#ff4a28" stroke="#0c0c0c" stroke-width="0.9" rx="0.6"/>
<rect x="296.50" y="315.4" width="1" height="9.2" fill="#111"/>
<rect x="295.20" y="316.4" width="3.6" height="7.6" fill="#00b453" stroke="#0c0c0c" stroke-width="0.9" rx="0.6"/>
<rect x="301.60" y="310.0" width="1" height="13.0" fill="#111"/>
<rect x="300.30" y="311.0" width="3.6" height="9.0" fill="#00b453" stroke="#0c0c0c" stroke-width="0.9" rx="0.6"/>
<rect x="306.70" y="274.0" width="1" height="38.0" fill="#111"/>
<rect x="305.40" y="279.4" width="3.6" height="31.6" fill="#00b453" stroke="#0c0c0c" stroke-width="0.9" rx="0.6"/>
<rect x="311.80" y="264.0" width="1" height="19.0" fill="#111"/>
<rect x="310.50" y="276.0" width="3.6" height="3.0" fill="#00b453" stroke="#0c0c0c" stroke-width="0.9" rx="0.6"/>
<rect x="316.90" y="270.0" width="1" height="19.4" fill="#111"/>
<rect x="315.60" y="276.0" width="3.6" height="11.6" fill="#ff4a28" stroke="#0c0c0c" stroke-width="0.9" rx="0.6"/>
<rect x="322.00" y="280.0" width="1" height="17.0" fill="#111"/>
<rect x="320.70" y="286.0" width="3.6" height="2.0" fill="#00b453" stroke="#0c0c0c" stroke-width="0.9" rx="0.6"/>
<rect x="327.10" y="272.0" width="1" height="18.6" fill="#111"/>
<rect x="325.80" y="273.0" width="3.6" height="16.0" fill="#00b453" stroke="#0c0c0c" stroke-width="0.9" rx="0.6"/>
<rect x="332.20" y="265.6" width="1" height="17.4" fill="#111"/>
<rect x="330.90" y="271.0" width="3.6" height="2.0" fill="#00b453" stroke="#0c0c0c" stroke-width="0.9" rx="0.6"/>
<rect x="337.30" y="260.0" width="1" height="12.4" fill="#111"/>
<rect x="336.00" y="262.4" width="3.6" height="9.0" fill="#00b453" stroke="#0c0c0c" stroke-width="0.9" rx="0.6"/>
<rect x="342.40" y="259.0" width="1" height="21.4" fill="#111"/>
<rect x="341.10" y="260.4" width="3.6" height="1.6" fill="#00b453" stroke="#0c0c0c" stroke-width="0.9" rx="0.6"/>
<rect x="347.50" y="251.0" width="1" height="25.4" fill="#111"/>
<rect x="346.20" y="260.4" width="3.6" height="14.6" fill="#ff4a28" stroke="#0c0c0c" stroke-width="0.9" rx="0.6"/>
<rect x="352.60" y="274.0" width="1" height="19.6" fill="#111"/>
<rect x="351.30" y="279.6" width="3.6" height="1.0" fill="#222" stroke="#0c0c0c" stroke-width="0.9" rx="0.6"/>
<rect x="357.70" y="268.4" width="1" height="16.6" fill="#111"/>
<rect x="356.40" y="270.0" width="3.6" height="10.4" fill="#00b453" stroke="#0c0c0c" stroke-width="0.9" rx="0.6"/>
<rect x="362.80" y="247.0" width="1" height="24.6" fill="#111"/>
<rect x="361.50" y="261.4" width="3.6" height="8.6" fill="#00b453" stroke="#0c0c0c" stroke-width="0.9" rx="0.6"/>
<rect x="367.90" y="247.6" width="1" height="17.4" fill="#111"/>
<rect x="366.60" y="248.6" width="3.6" height="12.4" fill="#00b453" stroke="#0c0c0c" stroke-width="0.9" rx="0.6"/>
<rect x="373.00" y="246.6" width="1" height="27.4" fill="#111"/>
<rect x="371.70" y="248.6" width="3.6" height="22.4" fill="#ff4a28" stroke="#0c0c0c" stroke-width="0.9" rx="0.6"/>
<rect x="378.10" y="264.0" width="1" height="11.6" fill="#111"/>
<rect x="376.80" y="271.0" width="3.6" height="2.0" fill="#ff4a28" stroke="#0c0c0c" stroke-width="0.9" rx="0.6"/>
<rect x="383.20" y="262.0" width="1" height="15.0" fill="#111"/>
<rect x="381.90" y="273.6" width="3.6" height="1.4" fill="#ff4a28" stroke="#0c0c0c" stroke-width="0.9" rx="0.6"/>
<rect x="388.30" y="266.0" width="1" height="18.0" fill="#111"/>
<rect x="387.00" y="269.4" width="3.6" height="5.6" fill="#00b453" stroke="#0c0c0c" stroke-width="0.9" rx="0.6"/>
<rect x="393.40" y="262.4" width="1" height="14.0" fill="#111"/>
<rect x="392.10" y="270.0" width="3.6" height="3.6" fill="#ff4a28" stroke="#0c0c0c" stroke-width="0.9" rx="0.6"/>
<rect x="398.50" y="266.0" width="1" height="11.6" fill="#111"/>
<rect x="397.20" y="267.0" width="3.6" height="6.6" fill="#00b453" stroke="#0c0c0c" stroke-width="0.9" rx="0.6"/>
<rect x="403.60" y="251.0" width="1" height="17.4" fill="#111"/>
<rect x="402.30" y="254.4" width="3.6" height="13.2" fill="#00b453" stroke="#0c0c0c" stroke-width="0.9" rx="0.6"/>
<rect x="408.70" y="241.0" width="1" height="14.6" fill="#111"/>
<rect x="407.40" y="246.4" width="3.6" height="8.2" fill="#00b453" stroke="#0c0c0c" stroke-width="0.9" rx="0.6"/>
<rect x="413.80" y="237.4" width="1" height="27.6" fill="#111"/>
<rect x="412.50" y="246.4" width="3.6" height="17.6" fill="#ff4a28" stroke="#0c0c0c" stroke-width="0.9" rx="0.6"/>
<rect x="418.90" y="258.0" width="1" height="18.4" fill="#111"/>
<rect x="417.60" y="261.0" width="3.6" height="2.6" fill="#00b453" stroke="#0c0c0c" stroke-width="0.9" rx="0.6"/>
<rect x="424.00" y="254.4" width="1" height="21.2" fill="#111"/>
<rect x="422.70" y="261.0" width="3.6" height="9.0" fill="#ff4a28" stroke="#0c0c0c" stroke-width="0.9" rx="0.6"/>
<rect x="429.10" y="258.0" width="1" height="15.6" fill="#111"/>
<rect x="427.80" y="269.6" width="3.6" height="2.0" fill="#00b453" stroke="#0c0c0c" stroke-width="0.9" rx="0.6"/>
<rect x="434.20" y="258.0" width="1" height="14.4" fill="#111"/>
<rect x="432.90" y="260.0" width="3.6" height="10.0" fill="#00b453" stroke="#0c0c0c" stroke-width="0.9" rx="0.6"/>
<rect x="439.30" y="247.6" width="1" height="14.0" fill="#111"/>
<rect x="438.00" y="249.0" width="3.6" height="11.6" fill="#00b453" stroke="#0c0c0c" stroke-width="0.9" rx="0.6"/>
<rect x="444.40" y="233.0" width="1" height="20.0" fill="#111"/>
<rect x="443.10" y="242.0" width="3.6" height="7.4" fill="#00b453" stroke="#0c0c0c" stroke-width="0.9" rx="0.6"/>
<rect x="449.50" y="211.0" width="1" height="32.0" fill="#111"/>
<rect x="448.20" y="211.6" width="3.6" height="30.8" fill="#00b453" stroke="#0c0c0c" stroke-width="0.9" rx="0.6"/>
<rect x="454.60" y="201.0" width="1" height="16.6" fill="#111"/>
<rect x="453.30" y="208.6" width="3.6" height="4.4" fill="#00b453" stroke="#0c0c0c" stroke-width="0.9" rx="0.6"/>
<rect x="459.70" y="198.0" width="1" height="14.4" fill="#111"/>
<rect x="458.40" y="208.4" width="3.6" height="1.2" fill="#222" stroke="#0c0c0c" stroke-width="0.9" rx="0.6"/>
<rect x="464.80" y="207.0" width="1" height="22.0" fill="#111"/>
<rect x="463.50" y="209.4" width="3.6" height="9.6" fill="#ff4a28" stroke="#0c0c0c" stroke-width="0.9" rx="0.6"/>
<rect x="469.90" y="219.4" width="1" height="20.2" fill="#111"/>
<rect x="468.60" y="219.4" width="3.6" height="18.6" fill="#ff4a28" stroke="#0c0c0c" stroke-width="0.9" rx="0.6"/>
<rect x="475.00" y="230.6" width="1" height="21.4" fill="#111"/>
<rect x="473.70" y="235.6" width="3.6" height="2.0" fill="#00b453" stroke="#0c0c0c" stroke-width="0.9" rx="0.6"/>
<rect x="480.10" y="231.0" width="1" height="7.6" fill="#111"/>
<rect x="478.80" y="233.6" width="3.6" height="3.8" fill="#ff4a28" stroke="#0c0c0c" stroke-width="0.9" rx="0.6"/>
<rect x="485.20" y="228.0" width="1" height="27.6" fill="#111"/>
<rect x="483.90" y="237.0" width="3.6" height="17.4" fill="#ff4a28" stroke="#0c0c0c" stroke-width="0.9" rx="0.6"/>
<rect x="490.30" y="234.0" width="1" height="26.4" fill="#111"/>
<rect x="489.00" y="235.0" width="3.6" height="19.6" fill="#00b453" stroke="#0c0c0c" stroke-width="0.9" rx="0.6"/>
<rect x="495.40" y="223.6" width="1" height="20.0" fill="#111"/>
<rect x="494.10" y="235.0" width="3.6" height="7.0" fill="#ff4a28" stroke="#0c0c0c" stroke-width="0.9" rx="0.6"/>
<rect x="500.50" y="228.6" width="1" height="15.0" fill="#111"/>
<rect x="499.20" y="235.0" width="3.6" height="7.4" fill="#00b453" stroke="#0c0c0c" stroke-width="0.9" rx="0.6"/>
<rect x="505.60" y="229.0" width="1" height="10.6" fill="#111"/>
<rect x="504.30" y="233.4" width="3.6" height="3.0" fill="#00b453" stroke="#0c0c0c" stroke-width="0.9" rx="0.6"/>
<rect x="510.70" y="218.0" width="1" height="21.0" fill="#111"/>
<rect x="509.40" y="229.6" width="3.6" height="3.8" fill="#00b453" stroke="#0c0c0c" stroke-width="0.9" rx="0.6"/>
<rect x="515.80" y="218.0" width="1" height="17.6" fill="#111"/>
<rect x="514.50" y="228.4" width="3.6" height="1.0" fill="#222" stroke="#0c0c0c" stroke-width="0.9" rx="0.6"/>
<rect x="520.90" y="226.0" width="1" height="16.4" fill="#111"/>
<rect x="519.60" y="226.6" width="3.6" height="1.8" fill="#00b453" stroke="#0c0c0c" stroke-width="0.9" rx="0.6"/>
<rect x="526.00" y="220.6" width="1" height="13.8" fill="#111"/>
<rect x="524.70" y="226.6" width="3.6" height="6.0" fill="#ff4a28" stroke="#0c0c0c" stroke-width="0.9" rx="0.6"/>
<rect x="531.10" y="223.4" width="1" height="35.0" fill="#111"/>
<rect x="529.80" y="233.6" width="3.6" height="18.4" fill="#ff4a28" stroke="#0c0c0c" stroke-width="0.9" rx="0.6"/>
<rect x="536.20" y="249.0" width="1" height="22.0" fill="#111"/>
<rect x="534.90" y="252.0" width="3.6" height="15.0" fill="#ff4a28" stroke="#0c0c0c" stroke-width="0.9" rx="0.6"/>
<rect x="541.30" y="265.6" width="1" height="30.0" fill="#111"/>
<rect x="540.00" y="267.0" width="3.6" height="28.0" fill="#ff4a28" stroke="#0c0c0c" stroke-width="0.9" rx="0.6"/>
<rect x="546.40" y="293.4" width="1" height="17.0" fill="#111"/>
<rect x="545.10" y="295.4" width="3.6" height="7.0" fill="#ff4a28" stroke="#0c0c0c" stroke-width="0.9" rx="0.6"/>
<rect x="551.50" y="291.4" width="1" height="22.2" fill="#111"/>
<rect x="550.20" y="302.6" width="3.6" height="4.8" fill="#ff4a28" stroke="#0c0c0c" stroke-width="0.9" rx="0.6"/>
<rect x="556.60" y="295.0" width="1" height="13.0" fill="#111"/>
<rect x="555.30" y="295.6" width="3.6" height="11.4" fill="#00b453" stroke="#0c0c0c" stroke-width="0.9" rx="0.6"/>
<rect x="561.70" y="277.6" width="1" height="18.0" fill="#111"/>
<rect x="560.40" y="279.0" width="3.6" height="16.0" fill="#00b453" stroke="#0c0c0c" stroke-width="0.9" rx="0.6"/>
<rect x="566.80" y="268.0" width="1" height="18.4" fill="#111"/>
<rect x="565.50" y="269.6" width="3.6" height="9.0" fill="#00b453" stroke="#0c0c0c" stroke-width="0.9" rx="0.6"/>
<rect x="571.90" y="256.6" width="1" height="15.0" fill="#111"/>
<rect x="570.60" y="263.6" width="3.6" height="6.4" fill="#00b453" stroke="#0c0c0c" stroke-width="0.9" rx="0.6"/>
<rect x="577.00" y="262.0" width="1" height="16.0" fill="#111"/>
<rect x="575.70" y="263.6" width="3.6" height="5.8" fill="#ff4a28" stroke="#0c0c0c" stroke-width="0.9" rx="0.6"/>
<rect x="582.10" y="260.0" width="1" height="10.0" fill="#111"/>
<rect x="580.80" y="264.0" width="3.6" height="4.4" fill="#00b453" stroke="#0c0c0c" stroke-width="0.9" rx="0.6"/>
<rect x="587.20" y="256.6" width="1" height="30.8" fill="#111"/>
<rect x="585.90" y="264.0" width="3.6" height="22.4" fill="#ff4a28" stroke="#0c0c0c" stroke-width="0.9" rx="0.6"/>
<rect x="592.30" y="273.0" width="1" height="14.6" fill="#111"/>
<rect x="591.00" y="276.4" width="3.6" height="10.0" fill="#00b453" stroke="#0c0c0c" stroke-width="0.9" rx="0.6"/>
<rect x="597.40" y="267.6" width="1" height="12.0" fill="#111"/>
<rect x="596.10" y="268.6" width="3.6" height="7.4" fill="#00b453" stroke="#0c0c0c" stroke-width="0.9" rx="0.6"/>
<rect x="602.50" y="246.0" width="1" height="24.0" fill="#111"/>
<rect x="601.20" y="247.0" width="3.6" height="22.0" fill="#00b453" stroke="#0c0c0c" stroke-width="0.9" rx="0.6"/>
<rect x="607.60" y="249.0" width="1" height="8.0" fill="#111"/>
<rect x="606.30" y="254.4" width="3.6" height="1.6" fill="#ff4a28" stroke="#0c0c0c" stroke-width="0.9" rx="0.6"/>
<rect x="612.70" y="255.6" width="1" height="16.4" fill="#111"/>
<rect x="611.40" y="256.6" width="3.6" height="13.4" fill="#ff4a28" stroke="#0c0c0c" stroke-width="0.9" rx="0.6"/>
<rect x="617.80" y="262.0" width="1" height="9.0" fill="#111"/>
<rect x="616.50" y="269.4" width="3.6" height="1.0" fill="#222" stroke="#0c0c0c" stroke-width="0.9" rx="0.6"/>
<rect x="622.90" y="268.0" width="1" height="31.0" fill="#111"/>
<rect x="621.60" y="269.6" width="3.6" height="19.8" fill="#ff4a28" stroke="#0c0c0c" stroke-width="0.9" rx="0.6"/>
<rect x="628.00" y="288.6" width="1" height="6.4" fill="#111"/>
<rect x="626.70" y="289.6" width="3.6" height="4.0" fill="#ff4a28" stroke="#0c0c0c" stroke-width="0.9" rx="0.6"/>
<rect x="633.10" y="283.6" width="1" height="14.8" fill="#111"/>
<rect x="631.80" y="292.0" width="3.6" height="5.6" fill="#ff4a28" stroke="#0c0c0c" stroke-width="0.9" rx="0.6"/>
<rect x="638.20" y="295.6" width="1" height="13.8" fill="#111"/>
<rect x="636.90" y="297.6" width="3.6" height="4.4" fill="#ff4a28" stroke="#0c0c0c" stroke-width="0.9" rx="0.6"/>
<rect x="643.30" y="277.0" width="1" height="25.6" fill="#111"/>
<rect x="642.00" y="282.4" width="3.6" height="19.6" fill="#00b453" stroke="#0c0c0c" stroke-width="0.9" rx="0.6"/>
<rect x="648.40" y="280.0" width="1" height="11.0" fill="#111"/>
<rect x="647.10" y="282.0" width="3.6" height="1.0" fill="#222" stroke="#0c0c0c" stroke-width="0.9" rx="0.6"/>
<rect x="653.50" y="271.0" width="1" height="15.4" fill="#111"/>
<rect x="652.20" y="277.6" width="3.6" height="4.8" fill="#00b453" stroke="#0c0c0c" stroke-width="0.9" rx="0.6"/>
<rect x="658.60" y="274.0" width="1" height="11.6" fill="#111"/>
<rect x="657.30" y="276.4" width="3.6" height="4.0" fill="#ff4a28" stroke="#0c0c0c" stroke-width="0.9" rx="0.6"/>
<rect x="663.70" y="274.4" width="1" height="8.2" fill="#111"/>
<rect x="662.40" y="279.0" width="3.6" height="2.6" fill="#00b453" stroke="#0c0c0c" stroke-width="0.9" rx="0.6"/>
<rect x="668.80" y="271.0" width="1" height="33.0" fill="#111"/>
<rect x="667.50" y="279.4" width="3.6" height="24.0" fill="#ff4a28" stroke="#0c0c0c" stroke-width="0.9" rx="0.6"/>
<rect x="673.90" y="294.6" width="1" height="20.4" fill="#111"/>
<rect x="672.60" y="303.6" width="3.6" height="4.4" fill="#ff4a28" stroke="#0c0c0c" stroke-width="0.9" rx="0.6"/>
<rect x="679.00" y="295.4" width="1" height="16.6" fill="#111"/>
<rect x="677.70" y="307.6" width="3.6" height="1.0" fill="#222" stroke="#0c0c0c" stroke-width="0.9" rx="0.6"/>
<rect x="684.10" y="299.0" width="1" height="18.6" fill="#111"/>
<rect x="682.80" y="299.6" width="3.6" height="9.4" fill="#00b453" stroke="#0c0c0c" stroke-width="0.9" rx="0.6"/>
<rect x="689.20" y="266.6" width="1" height="40.4" fill="#111"/>
<rect x="687.90" y="269.4" width="3.6" height="30.0" fill="#00b453" stroke="#0c0c0c" stroke-width="0.9" rx="0.6"/>
<rect x="694.30" y="253.0" width="1" height="48.0" fill="#111"/>
<rect x="693.00" y="265.6" width="3.6" height="3.8" fill="#00b453" stroke="#0c0c0c" stroke-width="0.9" rx="0.6"/>
<rect x="699.40" y="234.0" width="1" height="39.6" fill="#111"/>
<rect x="698.10" y="235.0" width="3.6" height="30.4" fill="#00b453" stroke="#0c0c0c" stroke-width="0.9" rx="0.6"/>
<rect x="704.50" y="234.4" width="1" height="12.6" fill="#111"/>
<rect x="703.20" y="235.0" width="3.6" height="7.4" fill="#ff4a28" stroke="#0c0c0c" stroke-width="0.9" rx="0.6"/>
<rect x="709.60" y="219.4" width="1" height="19.0" fill="#111"/>
<rect x="708.30" y="236.0" width="3.6" height="1.0" fill="#222" stroke="#0c0c0c" stroke-width="0.9" rx="0.6"/>
<rect x="714.70" y="232.4" width="1" height="10.2" fill="#111"/>
<rect x="713.40" y="234.4" width="3.6" height="3.0" fill="#00b453" stroke="#0c0c0c" stroke-width="0.9" rx="0.6"/>
<rect x="719.80" y="225.0" width="1" height="16.0" fill="#111"/>
<rect x="718.50" y="235.0" width="3.6" height="1.0" fill="#222" stroke="#0c0c0c" stroke-width="0.9" rx="0.6"/>
<rect x="724.90" y="232.4" width="1" height="19.2" fill="#111"/>
<rect x="723.60" y="236.0" width="3.6" height="13.4" fill="#ff4a28" stroke="#0c0c0c" stroke-width="0.9" rx="0.6"/>
<rect x="730.00" y="238.6" width="1" height="13.8" fill="#111"/>
<rect x="728.70" y="239.6" width="3.6" height="10.4" fill="#00b453" stroke="#0c0c0c" stroke-width="0.9" rx="0.6"/>
<rect x="735.10" y="223.0" width="1" height="17.6" fill="#111"/>
<rect x="733.80" y="225.0" width="3.6" height="15.0" fill="#00b453" stroke="#0c0c0c" stroke-width="0.9" rx="0.6"/>
<rect x="740.20" y="219.0" width="1" height="14.0" fill="#111"/>
<rect x="738.90" y="225.4" width="3.6" height="5.0" fill="#ff4a28" stroke="#0c0c0c" stroke-width="0.9" rx="0.6"/>
<rect x="745.30" y="221.6" width="1" height="16.4" fill="#111"/>
<rect x="744.00" y="229.0" width="3.6" height="1.0" fill="#222" stroke="#0c0c0c" stroke-width="0.9" rx="0.6"/>
<rect x="750.40" y="228.0" width="1" height="15.0" fill="#111"/>
<rect x="749.10" y="229.0" width="3.6" height="6.4" fill="#ff4a28" stroke="#0c0c0c" stroke-width="0.9" rx="0.6"/>
<rect x="755.50" y="223.0" width="1" height="16.6" fill="#111"/>
<rect x="754.20" y="230.4" width="3.6" height="5.0" fill="#00b453" stroke="#0c0c0c" stroke-width="0.9" rx="0.6"/>
<rect x="760.60" y="220.0" width="1" height="19.6" fill="#111"/>
<rect x="759.30" y="229.4" width="3.6" height="5.0" fill="#ff4a28" stroke="#0c0c0c" stroke-width="0.9" rx="0.6"/>
<rect x="765.70" y="211.6" width="1" height="23.4" fill="#111"/>
<rect x="764.40" y="212.4" width="3.6" height="22.0" fill="#00b453" stroke="#0c0c0c" stroke-width="0.9" rx="0.6"/>
<rect x="770.80" y="209.4" width="1" height="13.6" fill="#111"/>
<rect x="769.50" y="212.0" width="3.6" height="1.0" fill="#222" stroke="#0c0c0c" stroke-width="0.9" rx="0.6"/>
<rect x="775.90" y="209.4" width="1" height="5.0" fill="#111"/>
<rect x="774.60" y="213.0" width="3.6" height="1.0" fill="#222" stroke="#0c0c0c" stroke-width="0.9" rx="0.6"/>
<rect x="781.00" y="202.0" width="1" height="12.4" fill="#111"/>
<rect x="779.70" y="207.4" width="3.6" height="6.2" fill="#00b453" stroke="#0c0c0c" stroke-width="0.9" rx="0.6"/>
<rect x="786.10" y="200.0" width="1" height="19.0" fill="#111"/>
<rect x="784.80" y="204.6" width="3.6" height="13.8" fill="#ff4a28" stroke="#0c0c0c" stroke-width="0.9" rx="0.6"/>
<rect x="791.20" y="209.0" width="1" height="10.0" fill="#111"/>
<rect x="789.90" y="209.6" width="3.6" height="8.8" fill="#00b453" stroke="#0c0c0c" stroke-width="0.9" rx="0.6"/>
<rect x="796.30" y="196.0" width="1" height="19.0" fill="#111"/>
<rect x="795.00" y="197.0" width="3.6" height="13.0" fill="#00b453" stroke="#0c0c0c" stroke-width="0.9" rx="0.6"/>
<rect x="801.40" y="188.0" width="1" height="13.6" fill="#111"/>
<rect x="800.10" y="190.6" width="3.6" height="6.4" fill="#00b453" stroke="#0c0c0c" stroke-width="0.9" rx="0.6"/>
<rect x="806.50" y="189.4" width="1" height="9.0" fill="#111"/>
<rect x="805.20" y="191.0" width="3.6" height="4.4" fill="#ff4a28" stroke="#0c0c0c" stroke-width="0.9" rx="0.6"/>
<rect x="811.60" y="186.6" width="1" height="22.4" fill="#111"/>
<rect x="810.30" y="192.6" width="3.6" height="4.0" fill="#ff4a28" stroke="#0c0c0c" stroke-width="0.9" rx="0.6"/>
<rect x="816.70" y="192.0" width="1" height="9.4" fill="#111"/>
<rect x="815.40" y="196.6" width="3.6" height="2.8" fill="#ff4a28" stroke="#0c0c0c" stroke-width="0.9" rx="0.6"/>
<rect x="821.80" y="178.0" width="1" height="22.0" fill="#111"/>
<rect x="820.50" y="189.4" width="3.6" height="10.0" fill="#00b453" stroke="#0c0c0c" stroke-width="0.9" rx="0.6"/>
<rect x="826.90" y="162.0" width="1" height="32.0" fill="#111"/>
<rect x="825.60" y="163.0" width="3.6" height="26.6" fill="#00b453" stroke="#0c0c0c" stroke-width="0.9" rx="0.6"/>
<rect x="832.00" y="153.0" width="1" height="14.0" fill="#111"/>
<rect x="830.70" y="163.6" width="3.6" height="1.0" fill="#222" stroke="#0c0c0c" stroke-width="0.9" rx="0.6"/>
<rect x="837.10" y="151.0" width="1" height="15.0" fill="#111"/>
<rect x="835.80" y="158.4" width="3.6" height="5.6" fill="#ff4a28" stroke="#0c0c0c" stroke-width="0.9" rx="0.6"/>
<rect x="842.20" y="153.0" width="1" height="17.6" fill="#111"/>
<rect x="840.90" y="156.6" width="3.6" height="7.4" fill="#00b453" stroke="#0c0c0c" stroke-width="0.9" rx="0.6"/>
<rect x="847.30" y="150.0" width="1" height="12.0" fill="#111"/>
<rect x="846.00" y="151.6" width="3.6" height="5.0" fill="#00b453" stroke="#0c0c0c" stroke-width="0.9" rx="0.6"/>
<rect x="852.40" y="133.4" width="1" height="20.6" fill="#111"/>
<rect x="851.10" y="139.4" width="3.6" height="12.2" fill="#00b453" stroke="#0c0c0c" stroke-width="0.9" rx="0.6"/>
<rect x="857.50" y="136.6" width="1" height="12.4" fill="#111"/>
<rect x="856.20" y="139.0" width="3.6" height="1.0" fill="#222" stroke="#0c0c0c" stroke-width="0.9" rx="0.6"/>
<rect x="862.60" y="143.6" width="1" height="40.0" fill="#111"/>
<rect x="861.30" y="148.0" width="3.6" height="3.0" fill="#ff4a28" stroke="#0c0c0c" stroke-width="0.9" rx="0.6"/>
<rect x="867.70" y="148.0" width="1" height="19.6" fill="#111"/>
<rect x="866.40" y="151.0" width="3.6" height="16.0" fill="#ff4a28" stroke="#0c0c0c" stroke-width="0.9" rx="0.6"/>
<rect x="872.80" y="147.6" width="1" height="20.4" fill="#111"/>
<rect x="871.50" y="151.0" width="3.6" height="16.4" fill="#00b453" stroke="#0c0c0c" stroke-width="0.9" rx="0.6"/>
<rect x="877.90" y="143.0" width="1" height="10.6" fill="#111"/>
<rect x="876.60" y="147.6" width="3.6" height="4.0" fill="#00b453" stroke="#0c0c0c" stroke-width="0.9" rx="0.6"/>
<rect x="883.00" y="138.4" width="1" height="18.0" fill="#111"/>
<rect x="881.70" y="143.6" width="3.6" height="7.0" fill="#ff4a28" stroke="#0c0c0c" stroke-width="0.9" rx="0.6"/>
<rect x="888.10" y="138.0" width="1" height="13.6" fill="#111"/>
<rect x="886.80" y="143.0" width="3.6" height="7.6" fill="#00b453" stroke="#0c0c0c" stroke-width="0.9" rx="0.6"/>
<rect x="893.20" y="119.6" width="1" height="24.0" fill="#111"/>
<rect x="891.90" y="120.4" width="3.6" height="22.2" fill="#00b453" stroke="#0c0c0c" stroke-width="0.9" rx="0.6"/>
<rect x="898.30" y="104.0" width="1" height="19.0" fill="#111"/>
<rect x="897.00" y="118.6" width="3.6" height="1.8" fill="#00b453" stroke="#0c0c0c" stroke-width="0.9" rx="0.6"/>
<rect x="903.40" y="105.0" width="1" height="27.0" fill="#111"/>
<rect x="902.10" y="112.4" width="3.6" height="14.6" fill="#ff4a28" stroke="#0c0c0c" stroke-width="0.9" rx="0.6"/>
<rect x="908.50" y="94.4" width="1" height="33.2" fill="#111"/>
<rect x="907.20" y="99.6" width="3.6" height="27.4" fill="#00b453" stroke="#0c0c0c" stroke-width="0.9" rx="0.6"/>
<rect x="913.60" y="82.0" width="1" height="24.4" fill="#111"/>
<rect x="912.30" y="86.6" width="3.6" height="12.8" fill="#00b453" stroke="#0c0c0c" stroke-width="0.9" rx="0.6"/>
<rect x="918.70" y="83.0" width="1" height="25.0" fill="#111"/>
<rect x="917.40" y="86.6" width="3.6" height="10.4" fill="#ff4a28" stroke="#0c0c0c" stroke-width="0.9" rx="0.6"/>
<rect x="923.80" y="88.0" width="1" height="19.4" fill="#111"/>
<rect x="922.50" y="97.4" width="3.6" height="2.0" fill="#ff4a28" stroke="#0c0c0c" stroke-width="0.9" rx="0.6"/>
<rect x="928.90" y="100.0" width="1" height="25.0" fill="#111"/>
<rect x="927.60" y="101.4" width="3.6" height="16.2" fill="#ff4a28" stroke="#0c0c0c" stroke-width="0.9" rx="0.6"/>
<rect x="934.00" y="94.4" width="1" height="25.0" fill="#111"/>
<rect x="932.70" y="95.6" width="3.6" height="22.4" fill="#00b453" stroke="#0c0c0c" stroke-width="0.9" rx="0.6"/>
<rect x="939.10" y="93.0" width="1" height="17.0" fill="#111"/>
<rect x="937.80" y="95.6" width="3.6" height="10.8" fill="#ff4a28" stroke="#0c0c0c" stroke-width="0.9" rx="0.6"/>
<rect x="944.20" y="86.0" width="1" height="22.0" fill="#111"/>
<rect x="942.90" y="94.4" width="3.6" height="12.2" fill="#00b453" stroke="#0c0c0c" stroke-width="0.9" rx="0.6"/>
<rect x="949.30" y="90.6" width="1" height="30.4" fill="#111"/>
<rect x="948.00" y="94.4" width="3.6" height="23.0" fill="#ff4a28" stroke="#0c0c0c" stroke-width="0.9" rx="0.6"/>
<rect x="954.40" y="113.0" width="1" height="14.6" fill="#111"/>
<rect x="953.10" y="114.0" width="3.6" height="7.4" fill="#ff4a28" stroke="#0c0c0c" stroke-width="0.9" rx="0.6"/>
<rect x="959.50" y="109.0" width="1" height="15.4" fill="#111"/>
<rect x="958.20" y="117.6" width="3.6" height="4.0" fill="#00b453" stroke="#0c0c0c" stroke-width="0.9" rx="0.6"/>
<rect x="964.60" y="99.4" width="1" height="19.6" fill="#111"/>
<rect x="963.30" y="103.4" width="3.6" height="14.2" fill="#00b453" stroke="#0c0c0c" stroke-width="0.9" rx="0.6"/>
<rect x="969.70" y="93.0" width="1" height="11.4" fill="#111"/>
<rect x="968.40" y="99.4" width="3.6" height="4.0" fill="#00b453" stroke="#0c0c0c" stroke-width="0.9" rx="0.6"/>
<rect x="974.80" y="97.0" width="1" height="23.6" fill="#111"/>
<rect x="973.50" y="99.4" width="3.6" height="20.2" fill="#ff4a28" stroke="#0c0c0c" stroke-width="0.9" rx="0.6"/>
<rect x="979.90" y="103.0" width="1" height="18.0" fill="#111"/>
<rect x="978.60" y="109.4" width="3.6" height="3.0" fill="#ff4a28" stroke="#0c0c0c" stroke-width="0.9" rx="0.6"/>
<rect x="985.00" y="101.0" width="1" height="24.0" fill="#111"/>
<rect x="983.70" y="103.6" width="3.6" height="8.8" fill="#00b453" stroke="#0c0c0c" stroke-width="0.9" rx="0.6"/>
<rect x="990.10" y="98.0" width="1" height="33.6" fill="#111"/>
<rect x="988.80" y="104.0" width="3.6" height="22.6" fill="#ff4a28" stroke="#0c0c0c" stroke-width="0.9" rx="0.6"/>
<rect x="995.20" y="117.0" width="1" height="29.4" fill="#111"/>
<rect x="993.90" y="123.6" width="3.6" height="3.0" fill="#00b453" stroke="#0c0c0c" stroke-width="0.9" rx="0.6"/>
<rect x="1000.30" y="115.0" width="1" height="20.6" fill="#111"/>
<rect x="999.00" y="123.4" width="3.6" height="8.2" fill="#ff4a28" stroke="#0c0c0c" stroke-width="0.9" rx="0.6"/>
</g>
<rect x="20" y="172.2" width="1090" height="2.2" fill="#000"/>
<rect x="20" y="314.6" width="1090" height="2.2" fill="#000"/>
<path d="M912.2,78.7 Q913.6,76.3 915,77.7 Q915.8,78.7 915.7,79.8" fill="none" stroke="#1fb455" stroke-width="1.3" stroke-linecap="round"/>
<path d="M20.2,497.8 L21.8,499.6 L24,497.4" fill="none" stroke="#1fb455" stroke-width="1.1" stroke-linecap="round" stroke-linejoin="round"/>
<text class="ax" x="1118" y="91.3">0.78000</text>
<text class="ax" x="1118" y="206.3">0.74000</text>
<text class="ax" x="1118" y="263.3">0.72000</text>
<text class="ax" x="1118" y="377.3">0.68000</text>
<text class="ax" x="1118" y="434.3">0.66000</text>
<text class="ax" x="1118" y="491.3">0.64000</text>
<text class="ax" x="1118" y="654.3">0K</text>
<path d="M1105.5,150.6 L1112.5,140.1 L1163.0,140.1 Q1164.5,140.1 1164.5,141.6 L1164.5,159.6 Q1164.5,161.1 1163.0,161.1 L1112.5,161.1 Z" fill="#b1262c"/>
<text class="fl" x="1116.8" y="154.4">0.75807</text>
<path d="M1105.5,131.3 L1112.5,120.80000000000001 L1163.0,120.80000000000001 Q1164.5,120.80000000000001 1164.5,122.30000000000001 L1164.5,140.3 Q1164.5,141.8 1163.0,141.8 L1112.5,141.8 Z" fill="#ee4525"/>
<text class="fl" x="1116.8" y="135.10000000000002">0.76437</text>
<path d="M1105.5,173 L1112.5,162.5 L1163.0,162.5 Q1164.5,162.5 1164.5,164.0 L1164.5,182.0 Q1164.5,183.5 1163.0,183.5 L1112.5,183.5 Z" fill="#000"/>
<text class="fl" x="1116.8" y="176.8">0.75000</text>
<path d="M1105.5,250.6 L1112.5,240.1 L1163.0,240.1 Q1164.5,240.1 1164.5,241.6 L1164.5,259.6 Q1164.5,261.1 1163.0,261.1 L1112.5,261.1 Z" fill="#1d3df5"/>
<text class="fl" x="1116.8" y="254.4">0.72277</text>
<path d="M1105.5,315.5 L1112.5,305.0 L1163.0,305.0 Q1164.5,305.0 1164.5,306.5 L1164.5,324.5 Q1164.5,326.0 1163.0,326.0 L1112.5,326.0 Z" fill="#000"/>
<text class="fl" x="1116.8" y="319.3">0.70000</text>
<path d="M1105.5,579.5 L1112.5,569.0 L1147.5,569.0 Q1149,569.0 1149,570.5 L1149,588.5 Q1149,590.0 1147.5,590.0 L1112.5,590.0 Z" fill="#ee4525"/>
<text class="fl" x="1116.8" y="583.3">221K</text>
<clipPath id="cl"><rect x="20" y="660" width="1145" height="30"/></clipPath><g clip-path="url(#cl)">
<text class="ax" x="21.6" y="678.3" text-anchor="middle">May 4</text>
<text class="ax" x="72.6" y="678.3" text-anchor="middle">May 18</text>
<text class="ax" x="123.6" y="678.3" text-anchor="middle">Jun 1</text>
<text class="ax" x="174.6" y="678.3" text-anchor="middle">Jun 15</text>
<text class="ax" x="225.6" y="678.3" text-anchor="middle">Jun 29</text>
<text class="ax" x="276.6" y="678.3" text-anchor="middle">Jul 13</text>
<text class="ax" x="327.6" y="678.3" text-anchor="middle">Jul 27</text>
<text class="ax" x="378.6" y="678.3" text-anchor="middle">Aug 10</text>
<text class="ax" x="429.6" y="678.3" text-anchor="middle">Aug 24</text>
<text class="ax" x="480.6" y="678.3" text-anchor="middle">Sep 7</text>
<text class="ax" x="531.6" y="678.3" text-anchor="middle">Sep 21</text>
<text class="ax" x="582.6" y="678.3" text-anchor="middle">Oct 5</text>
<text class="ax" x="633.6" y="678.3" text-anchor="middle">Oct 19</text>
<text class="ax" x="684.6" y="678.3" text-anchor="middle">Nov 2</text>
<text class="ax" x="735.6" y="678.3" text-anchor="middle">Nov 16</text>
<text class="ax" x="786.6" y="678.3" text-anchor="middle">Nov 30</text>
<text class="ax" x="837.6" y="678.3" text-anchor="middle">Dec 14</text>
<text class="ax" x="883.5" y="678.3" text-anchor="middle">Dec 28</text>
<text class="ax" x="928.9" y="678.3" text-anchor="middle">Jan 11</text>
<text class="ax" x="980.2" y="678.3" text-anchor="middle">Jan 25</text>
<text class="ax" x="1051.7" y="678.3" text-anchor="middle">Feb 8</text>
</g>
<text class="lg" x="30" y="61.6">null</text>
<text class="lg" x="87" y="61.6">MAEXP (50, Close)</text>
<text class="lg" x="226" y="61.6">MAEXP (200, Close)</text>
<path d="M71.2,54.2 L78.2,61.2 M78.2,54.2 L71.2,61.2" stroke="#4a4a4a" stroke-width="1.15" fill="none"/>
<path d="M210.1,54.2 L217.1,61.2 M217.1,54.2 L210.1,61.2" stroke="#4a4a4a" stroke-width="1.15" fill="none"/>
<path d="M33.0,549.3 L40.0,556.3 M40.0,549.3 L33.0,556.3" stroke="#4a4a4a" stroke-width="1.15" fill="none"/>
<text class="lg" x="49" y="556.8">VOL</text>
<path d="M1081.3,57.3 L1085,61 L1088.7,57.3" fill="none" stroke="#222" stroke-width="1.3"/>
<path d="M1081,556.4 L1085,552.4 L1089,556.4" fill="none" stroke="#222" stroke-width="1.3"/>
<text class="tb b" x="20.5" y="20" >Range:</text>
<text class="tb" x="72.4" y="20" >1D</text>
<text class="tb" x="98.2" y="20" >5D</text>
<text class="tb" x="124.4" y="20" >1M</text>
<text class="tb" x="152.4" y="20" >3M</text>
<text class="tb" x="180.4" y="20" >6M</text>
<text class="tb b" x="209.3" y="20" style="fill:#1a5bb5">9M</text>
<text class="tb" x="238" y="20" >1Y</text>
<text class="tb" x="262.8" y="20" >2Y</text>
<text class="tb" x="288" y="20" >3Y</text>
<text class="tb" x="313" y="20" >5Y</text>
<text class="tb" x="338" y="20" >10Y</text>
<text class="tb" x="368.7" y="20" >20Y</text>
<text class="tb" x="400" y="20" >MAX</text>
<text class="tb b" x="442.9" y="20" >Frequency:</text>
<text class="tb" x="521" y="20" >Daily</text>
<path d="M562,15.2 L566,19.2 L570,15.2" fill="none" stroke="#111" stroke-width="2.2"/>
<rect x="583.2" y="4.5" width="1" height="23.5" fill="#d0d0d0"/>
<text class="tb" x="595.5" y="20" >9M</text>
<path d="M625.4,15.2 L629.4,19.2 L633.4,15.2" fill="none" stroke="#111" stroke-width="2.2"/>
<text class="tb b" x="655" y="20" >Date:</text>
<rect x="695.6" y="4.4" width="25.6" height="23" rx="2.2" fill="#fff" stroke="#1e5bb5" stroke-width="1.1"/>
<g fill="#1e5bb5"><rect x="701.8" y="10" width="13.8" height="3.2"/><rect x="704.2" y="8.2" width="2.6" height="3" rx="1"/><rect x="710.4" y="8.2" width="2.6" height="3" rx="1"/><rect x="701.8" y="13" width="1.1" height="10"/><rect x="714.5" y="13" width="1.1" height="10"/><rect x="701.8" y="22" width="13.8" height="1.1"/><rect x="705" y="13" width="0.9" height="10" opacity=".55"/><rect x="708.2" y="13" width="0.9" height="10" opacity=".55"/><rect x="711.4" y="13" width="0.9" height="10" opacity=".55"/><rect x="701.8" y="19" width="13.8" height="0.9" opacity=".55"/></g>
<rect x="705" y="8.8" width="1" height="2.6" fill="#fff"/><rect x="711.2" y="8.8" width="1" height="2.6" fill="#fff"/>
<g fill="none" stroke="#1e5bb5" stroke-width="1.1"><rect x="1064.2" y="14.5" width="13" height="10.8" rx="1"/><path d="M1067.2,14.5 V25.3 M1074.2,14.5 V25.3 M1067.2,19.9 H1074.2 M1064.2,17.2 H1067.2 M1064.2,19.9 H1067.2 M1064.2,22.6 H1067.2 M1074.2,17.2 H1077.2 M1074.2,19.9 H1077.2 M1074.2,22.6 H1077.2"/></g>
<text x="1081" y="25" style="font-size:13.2px;font-weight:bold;fill:#1e5bb5;stroke:#1e5bb5;stroke-width:0.25px;letter-spacing:0.5px">tutorial</text>
<g fill="#000"><rect x="1139.2" y="10" width="15.4" height="2.5" rx="1.2"/><rect x="1139.2" y="15.8" width="15.4" height="2.5" rx="1.2"/><rect x="1139.2" y="20.6" width="15.4" height="2.5" rx="1.2"/></g>
</svg></body></html>
